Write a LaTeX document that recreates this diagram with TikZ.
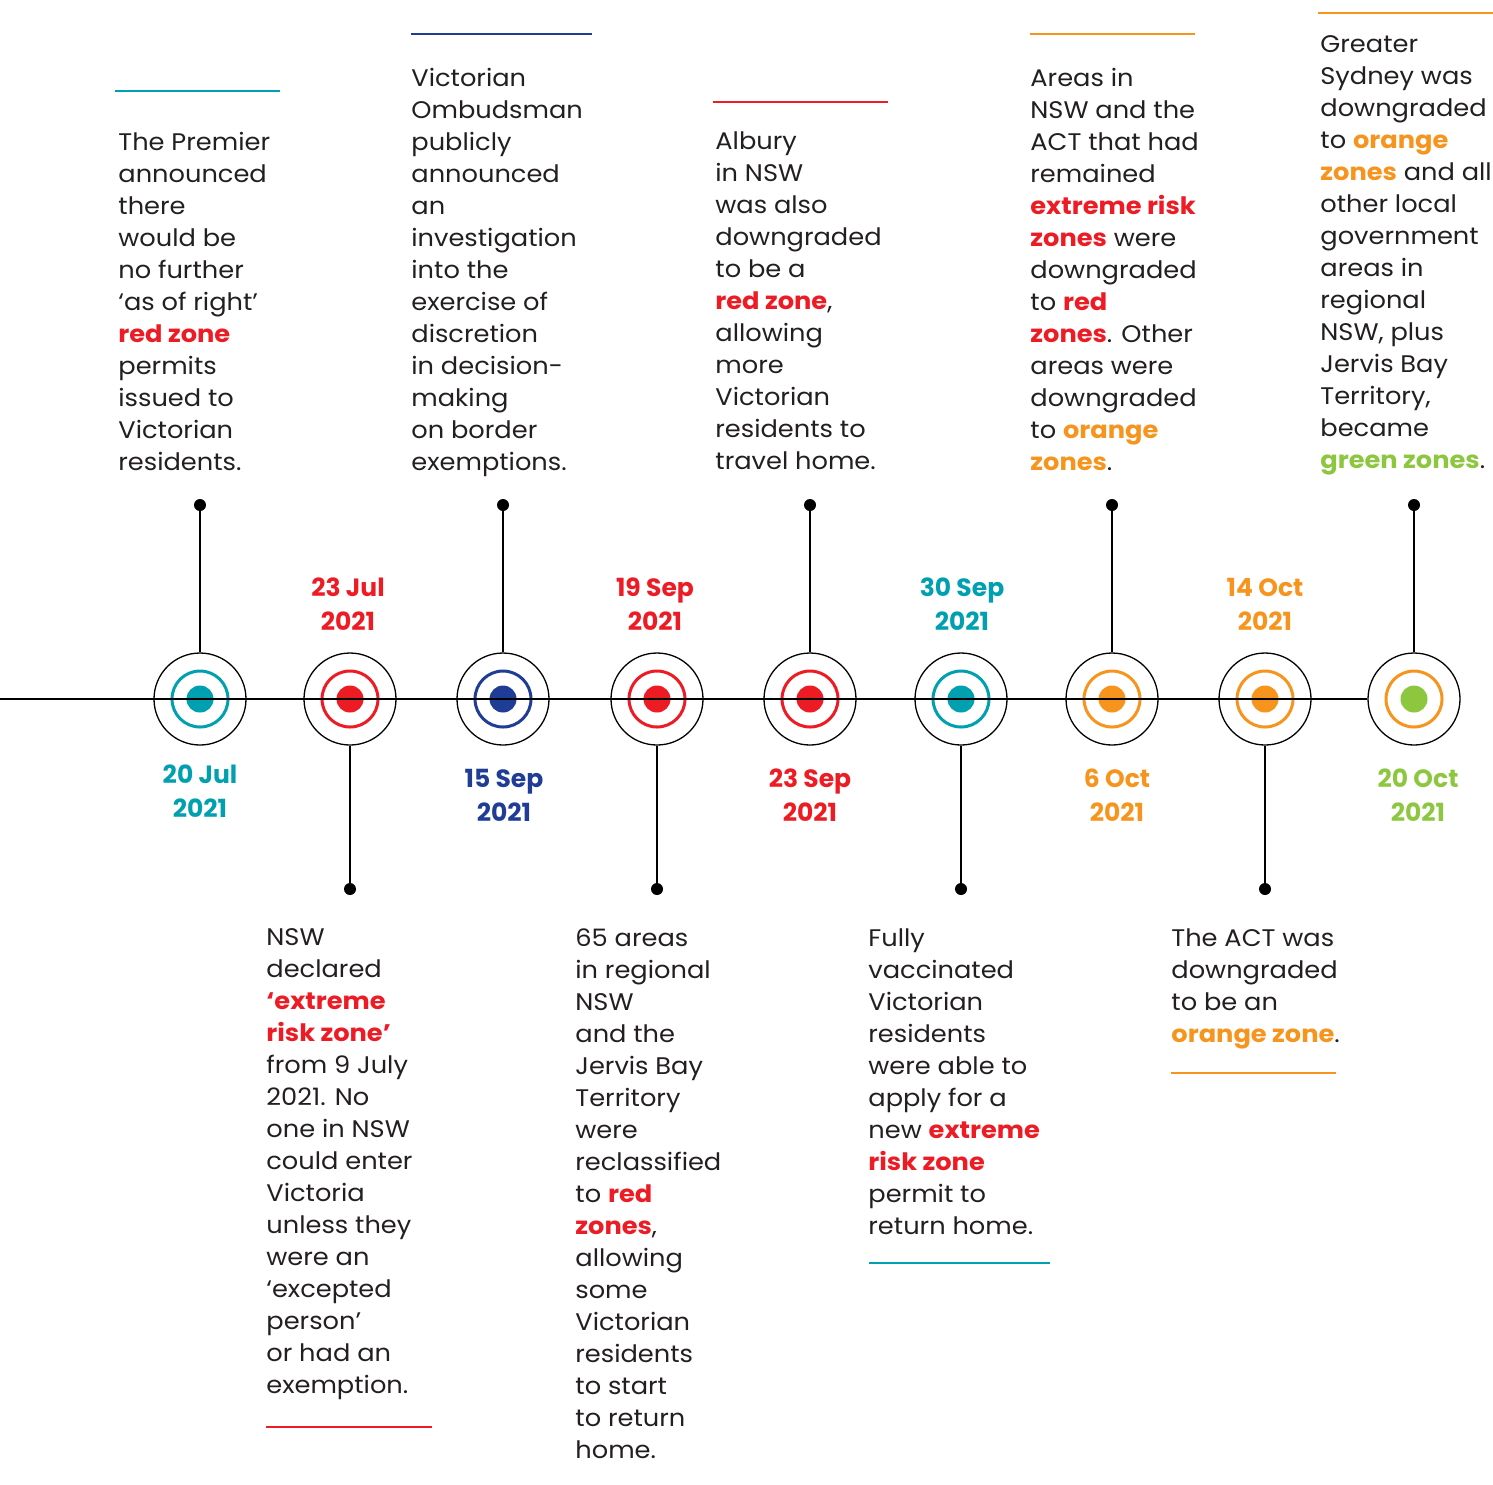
\documentclass[tikz,border=0pt]{standalone}
\usepackage{fontspec}
\setmainfont{Poppins}[FakeStretch=1.07]
\newfontfamily\datefont{Poppins}
\usepackage{xcolor}
\usetikzlibrary{positioning}

\definecolor{zteal}{RGB}{0,160,176}
\definecolor{zred}{RGB}{237,28,36}
\definecolor{zblue}{RGB}{31,60,150}
\definecolor{zorange}{RGB}{247,148,29}
\definecolor{zgreen}{RGB}{141,198,63}
\definecolor{zink}{RGB}{35,31,32}

\newcommand{\hl}[2]{\textbf{\color{#1}#2}}

\begin{document}
\begin{tikzpicture}[x=0.5pt,y=-0.5pt,
  outer/.style={circle,draw,line width=0.65pt,minimum size=46pt,inner sep=0pt},
  stemdot/.style={circle,fill,minimum size=6pt,inner sep=0pt},
  datelbl/.style={font=\datefont\fontsize{12.5}{17}\selectfont\bfseries,align=center},
  note/.style={anchor=north west,align=left,inner sep=0pt,text=zink,
    font=\fontsize{12}{16}\selectfont,execute at begin node=\strut},
  rule/.style={line width=1.25pt}]
	\useasboundingbox (0,0) rectangle (1493,1484);
	
	% nút trên trục
	\foreach \i/\x/\c/\d/\s in {1/200/zteal/zteal/505, 2/350/zred/zred/889,
	    3/503/zblue/zblue/505, 4/657/zred/zred/889, 5/810/zred/zred/505,
	    6/961/zteal/zteal/889, 7/1112/zorange/zorange/505,
	    8/1265/zorange/zorange/889, 9/1414/zorange/zgreen/505} {
		\node[outer] (n\i) at (\x,699) {};
		\draw[\c,line width=1.5pt] (n\i.center) circle (28);
		\fill[\d] (n\i.center) circle (13.5);
		\node[stemdot] (s\i) at (\x,\s) {};
		\draw[line width=1pt] (s\i) -- (n\i);
	}
	
	% trục thời gian
	\coordinate (lstart) at (0,699);
	\draw[line width=1pt] (lstart) -- (n9);
	
	% ngày tháng
	\node[datelbl,zteal] (d1) at (200,791) {20 Jul\\2021};
	\node[datelbl,zred] (d2) at (348,604) {23 Jul\\2021};
	\node[datelbl,zblue] (d3) at (504,795) {15 Sep\\2021};
	\node[datelbl,zred] (d4) at (655,604) {19 Sep\\2021};
	\node[datelbl,zred] (d5) at (810,795) {23 Sep\\2021};
	\node[datelbl,zteal] (d6) at (962,604) {30 Sep\\2021};
	\node[datelbl,zorange] (d7) at (1117,795) {6 Oct\\2021};
	\node[datelbl,zorange] (d8) at (1265,604) {14 Oct\\2021};
	\node[datelbl,zgreen] (d9) at (1418,795) {20 Oct\\2021};
	
	% ghi chú phía trên
	\draw[rule,zteal] (115,91) -- (280,91);
	\node[note] (t1) at (118,131.6) {The Premier\\announced\\there\\would be\\no further\\‘as of right’\\\hl{zred}{red zone}\\permits\\issued to\\Victorian\\residents.};
	\draw[rule,zblue] (411,34) -- (592,34);
	\node[note] (t3) at (411,67.6) {Victorian\\Ombudsman\\publicly\\announced\\an\\investigation\\into the\\exercise of\\discretion\\in decision-\\making\\on border\\exemptions.};
	\draw[rule,zred] (713,102) -- (888,102);
	\node[note] (t5) at (715,131.6) {Albury\\in NSW\\was also\\downgraded\\to be a\\\hl{zred}{red zone},\\allowing\\more\\Victorian\\residents to\\travel home.};
	\draw[rule,zorange] (1030,34) -- (1195,34);
	\node[note] (t7) at (1030,67.6) {Areas in\\NSW and the\\ACT that had\\remained\\\hl{zred}{extreme risk}\\\hl{zred}{zones} were\\downgraded\\to \hl{zred}{red}\\\hl{zred}{zones}. Other\\areas were\\downgraded\\to \hl{zorange}{orange}\\\hl{zorange}{zones}.};
	\draw[rule,zorange] (1318,13) -- (1493,13);
	\node[note] (t9) at (1320,35.6) {Greater\\Sydney was\\downgraded\\to \hl{zorange}{orange}\\\hl{zorange}{zones} and all\\other local\\government\\areas in\\regional\\NSW, plus\\Jervis Bay\\Territory,\\became\\\hl{zgreen}{green zones}.};
	
	% ghi chú phía dưới
	\node[note] (t2) at (266,928.6) {NSW\\declared\\\hl{zred}{‘extreme}\\\hl{zred}{risk zone’}\\from 9 July\\2021. No\\one in NSW\\could enter\\Victoria\\unless they\\were an\\‘excepted\\person’\\or had an\\exemption.};
	\draw[rule,zred] (266,1427) -- (432,1427);
	\node[note] (t4) at (575,928.6) {65 areas\\in regional\\NSW\\and the\\Jervis Bay\\Territory\\were\\reclassified\\to \hl{zred}{red}\\\hl{zred}{zones},\\allowing\\some\\Victorian\\residents\\to start\\to return\\home.};
	\node[note] (t6) at (868,928.6) {Fully\\vaccinated\\Victorian\\residents\\were able to\\apply for a\\new \hl{zred}{extreme}\\\hl{zred}{risk zone}\\permit to\\return home.};
	\draw[rule,zteal] (869,1263) -- (1050,1263);
	\node[note] (t8) at (1171,928.6) {The ACT was\\downgraded\\to be an\\\hl{zorange}{orange zone}.};
	\draw[rule,zorange] (1171,1073) -- (1336,1073);
\end{tikzpicture}
\end{document}
